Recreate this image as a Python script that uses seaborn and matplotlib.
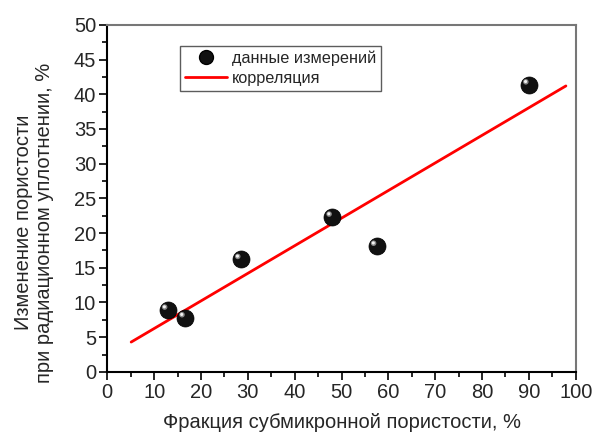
import matplotlib
matplotlib.use("Agg")
import matplotlib.pyplot as plt
import matplotlib.transforms as mtransforms
from matplotlib.ticker import MultipleLocator
from matplotlib.lines import Line2D
import seaborn as sns
import pandas as pd

x_meas = [12.9, 16.6, 28.5, 48.0, 57.5, 90.0]
y_meas = [8.9, 7.8, 16.2, 22.3, 18.1, 41.35]
x_fit = [5.1, 97.9]
y_fit = [4.3, 41.2]

xlabel = "Фракция субмикронной пористости, %"
ylabel = "Изменение пористости\nпри радиационном уплотнении, %"
label_meas = "данные измерений"
label_fit = "корреляция"

sns.set_style("white")
plt.rcParams['font.family'] = ['Liberation Sans', 'DejaVu Sans']

df_meas = pd.DataFrame({"x": x_meas, "y": y_meas})
df_fit = pd.DataFrame({"x": x_fit, "y": y_fit})

fig = plt.figure(figsize=(5.96, 4.36), dpi=100)
ax = fig.add_axes([0.180, 0.147, 0.786, 0.796])

sns.lineplot(data=df_fit, x="x", y="y", ax=ax, color="#ff0000", lw=2, zorder=2)
sns.scatterplot(data=df_meas, x="x", y="y", ax=ax, s=150, color="#111111",
                edgecolor="#000000", linewidth=0.5, zorder=3)
# highlight to imitate spheres
off = mtransforms.offset_copy(ax.transData, fig=fig, x=-2.2, y=2.2, units='points')
ax.scatter(x_meas, y_meas, s=16, color="#888888", edgecolor="none", transform=off, zorder=4)
off2 = mtransforms.offset_copy(ax.transData, fig=fig, x=-2.4, y=2.4, units='points')
ax.scatter(x_meas, y_meas, s=5, color="#f2f2f2", edgecolor="none", transform=off2, zorder=5)

ax.set_xlim(0, 100)
ax.set_ylim(0, 50)
ax.xaxis.set_major_locator(MultipleLocator(10))
ax.xaxis.set_minor_locator(MultipleLocator(5))
ax.yaxis.set_major_locator(MultipleLocator(5))
ax.yaxis.set_minor_locator(MultipleLocator(2.5))
ax.tick_params(axis='both', which='major', direction='out', length=6, width=1.2,
               labelsize=14.5, color='black', bottom=True, left=True, pad=2)
ax.tick_params(axis='both', which='minor', direction='out', length=3.5, width=1.2,
               color='black', bottom=True, left=True)
for s in ['left', 'bottom']:
    ax.spines[s].set_color('black')
    ax.spines[s].set_linewidth(1.5)
for s in ['top', 'right']:
    ax.spines[s].set_color('#777777')
    ax.spines[s].set_linewidth(1.5)

ax.set_xlabel(xlabel, fontsize=14.5, labelpad=8)
ax.set_ylabel(ylabel, fontsize=14.5, labelpad=14, linespacing=1.15)
ax.yaxis.label.set_y(0.43)

handles = [Line2D([], [], marker='o', ls='none', markersize=10, markerfacecolor='#111111',
                  markeredgecolor='black'),
           Line2D([], [], color='#ff0000', lw=2)]
leg = ax.legend(handles, [label_meas, label_fit], loc='upper left',
                bbox_to_anchor=(0.155, 0.94), frameon=True, fancybox=False,
                fontsize=11.7, handlelength=2.6, borderpad=0.3, labelspacing=0.3,
                handletextpad=0.3, borderaxespad=0)
leg.get_frame().set_edgecolor('#333333')
leg.get_frame().set_linewidth(1.0)

fig.savefig("out.png", dpi=100)
